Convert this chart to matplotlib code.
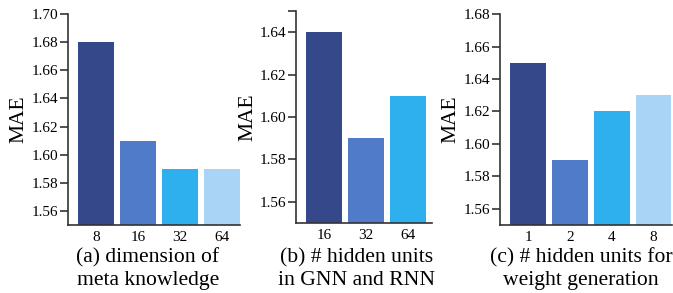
import numpy as np
import matplotlib
matplotlib.use('Agg')
import matplotlib.pyplot as plt

plt.rcParams['font.family'] = ['Liberation Serif', 'DejaVu Serif']

# Data.
dim_labels = ['8', '16', '32', '64']
dim_mae = [1.68, 1.61, 1.59, 1.59]

gnn_labels = ['16', '32', '64']
gnn_mae = [1.64, 1.59, 1.61]

wg_labels = ['1', '2', '4', '8']
wg_mae = [1.65, 1.59, 1.62, 1.63]

captions = ['(a) dimension of\nmeta knowledge',
            '(b) # hidden units\nin GNN and RNN',
            '(c) # hidden units for\nweight generation']

colors = ['#34488a', '#4f7bc8', '#2fb0ee', '#aad4f5']

fig = plt.figure(figsize=(6.73, 2.93), dpi=100)

boxes = [[0.101, 0.232, 0.256, 0.720],
         [0.440, 0.239, 0.202, 0.723],
         [0.743, 0.232, 0.256, 0.720]]
ylims = [(1.55, 1.70), (1.55, 1.65), (1.55, 1.68)]
yticks = [np.arange(1.56, 1.705, 0.02), np.arange(1.56, 1.645, 0.02), np.arange(1.56, 1.685, 0.02)]
xlims = [(-0.67, 3.43), (-0.67, 2.57), (-0.67, 3.45)]
caption_x = [148 / 673, 357 / 673, 581 / 673]

panels = [(dim_labels, dim_mae), (gnn_labels, gnn_mae), (wg_labels, wg_mae)]

for i, (labels, vals) in enumerate(panels):
    ax = fig.add_axes(boxes[i])
    x = np.arange(len(labels))
    ax.bar(x, np.array(vals) - ylims[i][0], bottom=ylims[i][0], width=0.86,
           color=colors[:len(labels)])
    ax.set_ylim(*ylims[i])
    ax.set_xlim(*xlims[i])
    ax.set_yticks(yticks[i])
    ax.set_yticklabels(['%.2f' % t for t in yticks[i]])
    if i == 1:
        # unlabelled tick at the top of the spine
        ax.set_yticks([1.65], minor=True)
        ax.tick_params(axis='y', which='minor', length=6, width=1.2, color='#333333')
    ax.set_xticks(x)
    ax.set_xticklabels(labels)
    for s in ['top', 'right']:
        ax.spines[s].set_visible(False)
    for s in ['left', 'bottom']:
        ax.spines[s].set_color('#333333')
        ax.spines[s].set_linewidth(1.2)
    ax.tick_params(axis='y', length=6, width=1.2, color='#333333', labelsize=11, pad=1)
    ax.tick_params(axis='x', length=0, labelsize=11, pad=4)
    ax.set_ylabel('MAE', fontsize=15.5, labelpad=2)
    fig.text(caption_x[i], 1 - 248 / 293, captions[i], ha='center', va='top',
             fontsize=15.6, linespacing=1.28)

fig.savefig('out.png', dpi=100)
